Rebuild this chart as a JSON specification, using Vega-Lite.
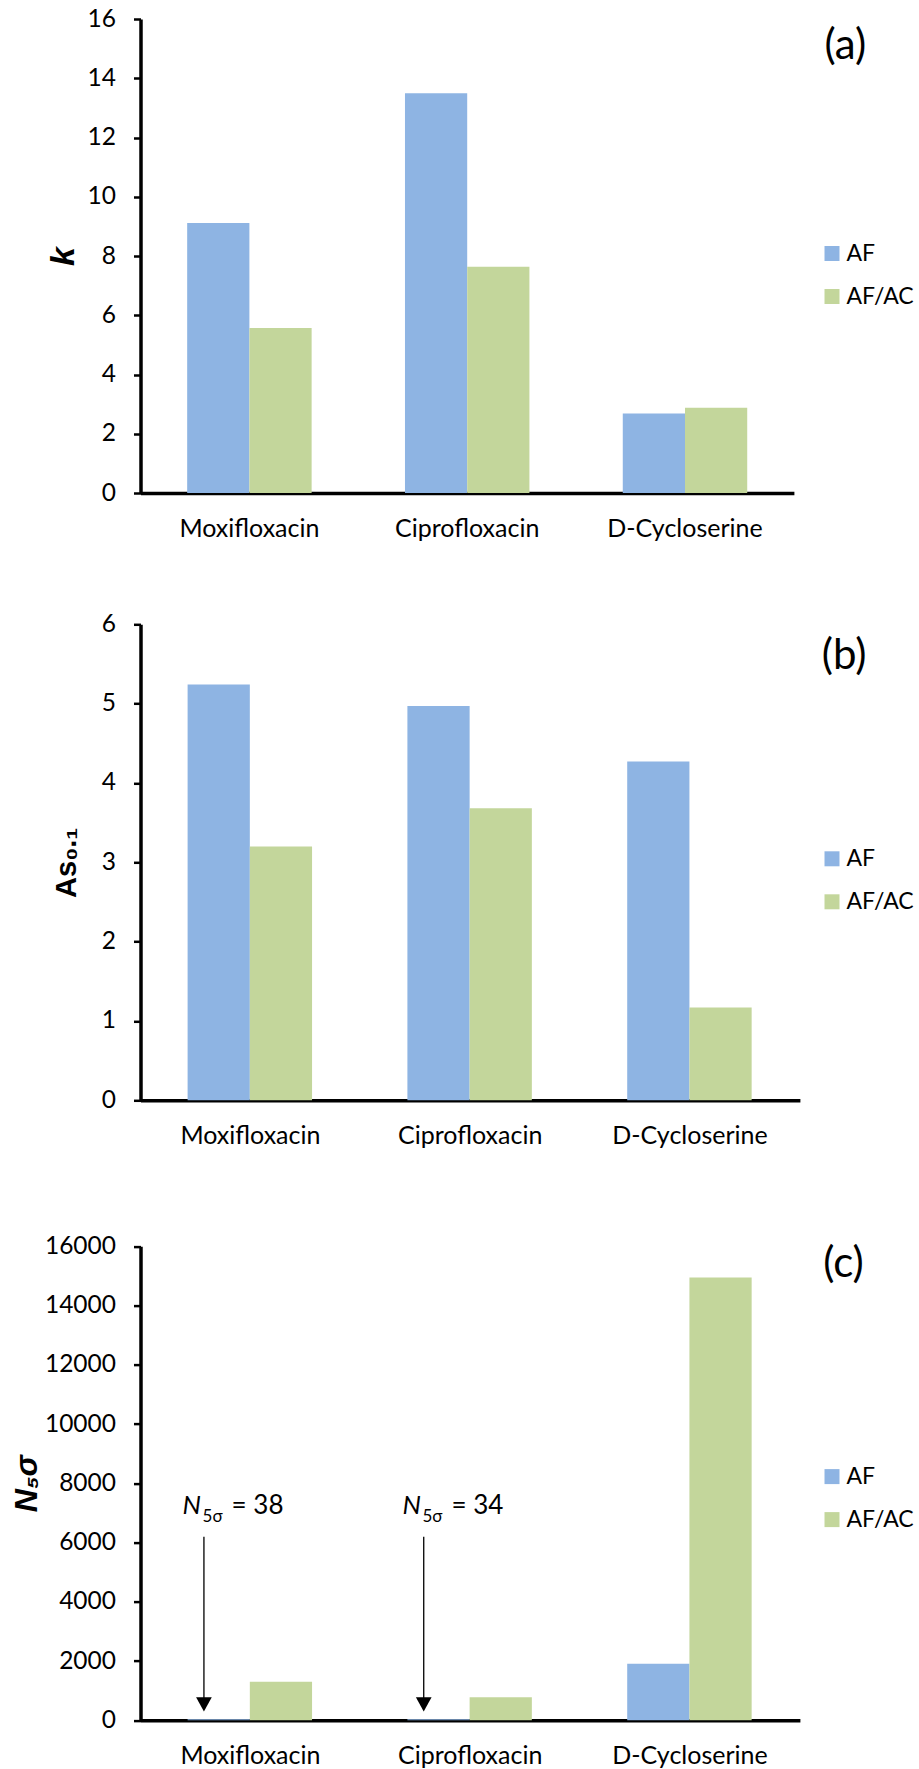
{
  "$schema": "https://vega.github.io/schema/vega-lite/v6.json",
  "background": "white",
  "padding": {"left": 10.5, "top": 6, "right": 2, "bottom": 2},
  "bounds": "flush",
  "spacing": 131.3,
  "config": {
    "font": "Lato",
    "view": {"stroke": null},
    "axis": {"labelFont": "Lato", "labelColor": "#000000", "labelFontSize": 24.5, "domainColor": "#000000", "tickColor": "#000000", "grid": false, "titleColor": "#000000", "titleFont": "Liberation Sans"},
    "legend": {"symbolType": "square", "symbolSize": 225, "symbolStrokeWidth": 0, "labelFontSize": 23, "labelFont": "Lato", "labelColor": "#000000", "labelOffset": 3, "rowPadding": 19, "padding": 0, "title": null}
  },
  "datasets": {
    "k": [
      {"drug": "Moxifloxacin", "series": "AF", "value": 9.11},
      {"drug": "Moxifloxacin", "series": "AF/AC", "value": 5.57},
      {"drug": "Ciprofloxacin", "series": "AF", "value": 13.49},
      {"drug": "Ciprofloxacin", "series": "AF/AC", "value": 7.64},
      {"drug": "D-Cycloserine", "series": "AF", "value": 2.68},
      {"drug": "D-Cycloserine", "series": "AF/AC", "value": 2.88}
    ],
    "as": [
      {"drug": "Moxifloxacin", "series": "AF", "value": 5.24},
      {"drug": "Moxifloxacin", "series": "AF/AC", "value": 3.2},
      {"drug": "Ciprofloxacin", "series": "AF", "value": 4.97},
      {"drug": "Ciprofloxacin", "series": "AF/AC", "value": 3.68},
      {"drug": "D-Cycloserine", "series": "AF", "value": 4.27},
      {"drug": "D-Cycloserine", "series": "AF/AC", "value": 1.17}
    ],
    "n": [
      {"drug": "Moxifloxacin", "series": "AF", "value": 38},
      {"drug": "Moxifloxacin", "series": "AF/AC", "value": 1304},
      {"drug": "Ciprofloxacin", "series": "AF", "value": 34},
      {"drug": "Ciprofloxacin", "series": "AF/AC", "value": 782},
      {"drug": "D-Cycloserine", "series": "AF", "value": 1910},
      {"drug": "D-Cycloserine", "series": "AF/AC", "value": 14945}
    ],
    "ann": [
      {"drug": "Moxifloxacin", "eq": "= 38"},
      {"drug": "Ciprofloxacin", "eq": "= 34"}
    ],
    "panel": [
      {"label": "(a)", "drug": "D-Cycloserine", "pos": 14.65},
      {"label": "(b)", "drug": "D-Cycloserine", "pos": 5.44},
      {"label": "(c)", "drug": "D-Cycloserine", "pos": 14967}
    ]
  },
  "resolve": {"scale": {"x": "independent", "y": "independent", "color": "independent"}, "legend": {"color": "independent"}},
  "vconcat": [
    {
      "width": 653.4,
      "height": 474,
      "encoding": {
        "x": {"field": "drug", "type": "nominal", "sort": ["Moxifloxacin", "Ciprofloxacin", "D-Cycloserine"], "scale": {"paddingInner": 0.4286, "paddingOuter": 0.2143}, "axis": {"title": null, "labelAngle": 0, "ticks": false, "tickSize": 0, "labelPadding": 23, "labelFontSize": 25, "domainWidth": 3.5}}
      },
      "layer": [
        {
          "data": {"name": "k"},
          "mark": {"type": "bar"},
          "encoding": {
            "xOffset": {"field": "series", "type": "nominal", "sort": ["AF", "AF/AC"], "scale": {"paddingInner": 0, "paddingOuter": 0}},
            "y": {"field": "value", "type": "quantitative", "scale": {"domain": [0, 16]}, "axis": {"values": [0, 2, 4, 6, 8, 10, 12, 14, 16], "format": "d", "title": "k", "titleFontStyle": "italic", "titleFontWeight": "bold", "titleFontSize": 34, "titleAngle": -90, "titleAlign": "center", "titleBaseline": "middle", "titleX": -77.3, "titleY": 237, "tickSize": 7, "tickWidth": 2.5, "domainWidth": 3.5, "labelPadding": 18}},
            "color": {"field": "series", "type": "nominal", "scale": {"domain": ["AF", "AF/AC"], "range": ["#8EB4E3", "#C3D69B"]}, "legend": {"orient": "none", "legendX": 680, "legendY": 223}}
          }
        },
        {
          "data": {"name": "panel"},
          "transform": [{"filter": "datum.label === '(a)'"}],
          "mark": {"type": "text", "font": "Lato", "fontSize": 42, "align": "right", "baseline": "alphabetic", "dx": 119, "color": "#000000"},
          "encoding": {
            "x": {"field": "drug", "type": "nominal", "bandPosition": 1},
            "y": {"field": "pos", "type": "quantitative"},
            "text": {"field": "label", "type": "nominal"}
          }
        }
      ]
    },
    {
      "width": 659.4,
      "height": 476,
      "encoding": {
        "x": {"field": "drug", "type": "nominal", "sort": ["Moxifloxacin", "Ciprofloxacin", "D-Cycloserine"], "scale": {"paddingInner": 0.4286, "paddingOuter": 0.2143}, "axis": {"title": null, "labelAngle": 0, "ticks": false, "tickSize": 0, "labelPadding": 23, "labelFontSize": 25, "domainWidth": 3.5}}
      },
      "layer": [
        {
          "data": {"name": "as"},
          "mark": {"type": "bar"},
          "encoding": {
            "xOffset": {"field": "series", "type": "nominal", "sort": ["AF", "AF/AC"], "scale": {"paddingInner": 0, "paddingOuter": 0}},
            "y": {"field": "value", "type": "quantitative", "scale": {"domain": [0, 6]}, "axis": {"values": [0, 1, 2, 3, 4, 5, 6], "format": "d", "title": "As₀.₁", "titleFontWeight": "bold", "titleFontSize": 29, "titleAngle": -90, "titleAlign": "center", "titleBaseline": "middle", "titleX": -74.3, "titleY": 238, "tickSize": 7, "tickWidth": 2.5, "domainWidth": 3.5, "labelPadding": 18}},
            "color": {"field": "series", "type": "nominal", "scale": {"domain": ["AF", "AF/AC"], "range": ["#8EB4E3", "#C3D69B"]}, "legend": {"orient": "none", "legendX": 680, "legendY": 223}}
          }
        },
        {
          "data": {"name": "panel"},
          "transform": [{"filter": "datum.label === '(b)'"}],
          "mark": {"type": "text", "font": "Lato", "fontSize": 42, "align": "right", "baseline": "alphabetic", "dx": 113.7, "color": "#000000"},
          "encoding": {
            "x": {"field": "drug", "type": "nominal", "bandPosition": 1},
            "y": {"field": "pos", "type": "quantitative"},
            "text": {"field": "label", "type": "nominal"}
          }
        }
      ]
    },
    {
      "width": 659.4,
      "height": 488.7,
      "encoding": {
        "x": {"field": "drug", "type": "nominal", "sort": ["Moxifloxacin", "Ciprofloxacin", "D-Cycloserine"], "scale": {"paddingInner": 0.4286, "paddingOuter": 0.2143}, "axis": {"title": null, "labelAngle": 0, "ticks": false, "tickSize": 0, "labelPadding": 23, "labelFontSize": 25, "domainWidth": 3.5}}
      },
      "layer": [
        {
          "data": {"name": "n"},
          "mark": {"type": "bar"},
          "encoding": {
            "xOffset": {"field": "series", "type": "nominal", "sort": ["AF", "AF/AC"], "scale": {"paddingInner": 0, "paddingOuter": 0}},
            "y": {"field": "value", "type": "quantitative", "scale": {"domain": [0, 16000], "range": [488.7, 14.7]}, "axis": {"values": [0, 2000, 4000, 6000, 8000, 10000, 12000, 14000, 16000], "format": "d", "title": "N₅σ", "titleFontStyle": "italic", "titleFontWeight": "bold", "titleFontSize": 32, "titleAngle": -90, "titleAlign": "center", "titleBaseline": "middle", "titleX": -114, "titleY": 251.7, "tickSize": 7, "tickWidth": 2.5, "domainWidth": 3.5, "labelPadding": 18}},
            "color": {"field": "series", "type": "nominal", "scale": {"domain": ["AF", "AF/AC"], "range": ["#8EB4E3", "#C3D69B"]}, "legend": {"orient": "none", "legendX": 680, "legendY": 233.5}}
          }
        },
        {
          "data": {"name": "panel"},
          "transform": [{"filter": "datum.label === '(c)'"}],
          "mark": {"type": "text", "font": "Lato", "fontSize": 42, "align": "right", "baseline": "alphabetic", "dx": 111, "color": "#000000"},
          "encoding": {
            "x": {"field": "drug", "type": "nominal", "bandPosition": 1},
            "y": {"field": "pos", "type": "quantitative"},
            "text": {"field": "label", "type": "nominal"}
          }
        },
        {
          "data": {"name": "ann"},
          "mark": {"type": "rule", "color": "#000000", "strokeWidth": 1.3},
          "encoding": {
            "x": {"field": "drug", "type": "nominal", "bandPosition": 0.13},
            "y": {"datum": 6200, "type": "quantitative"},
            "y2": {"datum": 700}
          }
        },
        {
          "data": {"name": "ann"},
          "mark": {"type": "point", "shape": "M-1,-1.8L1,-1.8L0,0Z", "filled": true, "color": "#000000", "opacity": 1, "size": 246, "strokeWidth": 0},
          "encoding": {
            "x": {"field": "drug", "type": "nominal", "bandPosition": 0.13},
            "y": {"datum": 300, "type": "quantitative"}
          }
        },
        {
          "data": {"name": "ann"},
          "mark": {"type": "text", "text": "N", "font": "Lato", "fontStyle": "italic", "fontSize": 26, "align": "left", "baseline": "alphabetic", "dx": -5, "color": "#000000"},
          "encoding": {
            "x": {"field": "drug", "type": "nominal", "bandPosition": 0},
            "y": {"datum": 6950, "type": "quantitative"}
          }
        },
        {
          "data": {"name": "ann"},
          "mark": {"type": "text", "text": "5σ", "font": "Lato", "fontSize": 17, "align": "left", "baseline": "alphabetic", "dx": 15, "dy": 7.7, "color": "#000000"},
          "encoding": {
            "x": {"field": "drug", "type": "nominal", "bandPosition": 0},
            "y": {"datum": 6950, "type": "quantitative"}
          }
        },
        {
          "data": {"name": "ann"},
          "mark": {"type": "text", "font": "Lato", "fontSize": 26, "align": "left", "baseline": "alphabetic", "dx": 44, "color": "#000000"},
          "encoding": {
            "x": {"field": "drug", "type": "nominal", "bandPosition": 0},
            "y": {"datum": 6950, "type": "quantitative"},
            "text": {"field": "eq", "type": "nominal"}
          }
        }
      ]
    }
  ]
}
